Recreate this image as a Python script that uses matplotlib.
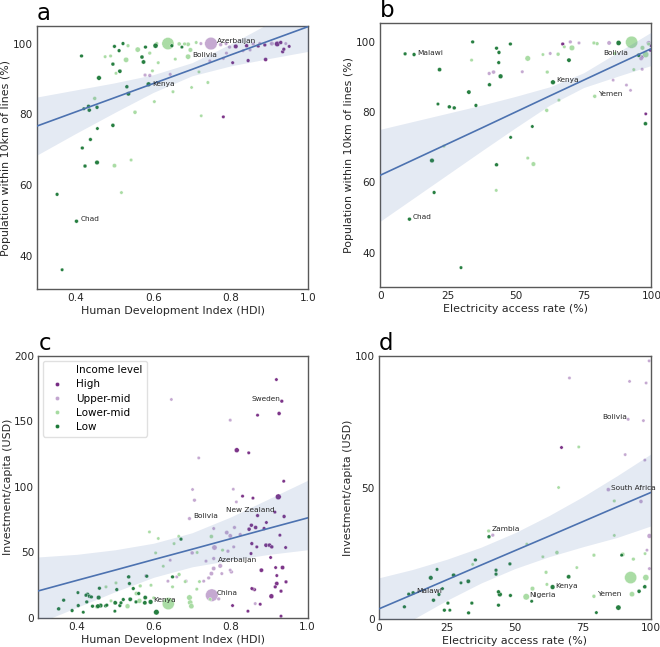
import numpy as np
import matplotlib
matplotlib.use("Agg")
import matplotlib.pyplot as plt
from matplotlib.lines import Line2D

# income groups and colours (PRGn-like)
INCOME = ["High", "Upper-mid", "Lower-mid", "Low"]
COLORS = ["#762a83", "#c2a5cf", "#a6dba0", "#1b7837"]

# ---- panel a: HDI vs population within 10km of lines (%) ; (x, y, pop in millions)
A_HIGH = [(0.92, 99.9, 90), (0.813, 99.2, 40), (0.805, 94.6, 5), (0.845, 95.2, 10), (0.89, 95.5, 20),
          (0.937, 98.4, 10), (0.934, 97.7, 10), (0.951, 99.2, 5), (0.781, 79.3, 5), (0.841, 99.4, 15),
          (0.888, 99.6, 10), (0.906, 100, 15), (0.871, 99.3, 10), (0.929, 100.3, 15)]
A_UPPER = [(0.749, 100, 1300), (0.579, 91.1, 10), (0.591, 91, 10), (0.644, 91.3, 5), (0.774, 99.7, 15),
           (0.788, 100, 10), (0.797, 99, 10), (0.832, 98, 5), (0.858, 99.9, 10), (0.875, 100, 10),
           (0.746, 95.1, 5), (0.789, 97.3, 5), (0.85, 98.2, 5), (0.905, 100, 5), (0.942, 100, 5),
           (0.723, 100, 5), (0.781, 95.8, 5)]
A_LOWER = [(0.53, 95.4, 80), (0.56, 98.3, 80), (0.638, 100, 1200), (0.69, 96.3, 80), (0.696, 98.2, 40),
           (0.69, 99.8, 30), (0.667, 99.9, 20), (0.5, 65.5, 30), (0.449, 84.5, 15), (0.553, 80.6, 20),
           (0.543, 67.1, 5), (0.518, 57.9, 5), (0.535, 99.4, 10), (0.49, 96.5, 5), (0.476, 96.3, 5),
           (0.504, 91.6, 5), (0.598, 92.3, 5), (0.603, 83.6, 5), (0.651, 86.4, 5), (0.657, 95.6, 5),
           (0.613, 94.6, 5), (0.591, 97.3, 10), (0.609, 100, 10), (0.711, 100.3, 5), (0.724, 79.6, 3),
           (0.699, 87.6, 3), (0.741, 89, 5), (0.718, 92, 3), (0.681, 99.9, 10)]
A_LOW = [(0.415, 96.5, 10), (0.352, 57.4, 10), (0.365, 36.1, 5), (0.402, 49.8, 15), (0.417, 70.5, 10),
         (0.424, 65.4, 15), (0.438, 72.9, 10), (0.433, 82.3, 10), (0.435, 81.2, 20), (0.421, 81.6, 5),
         (0.455, 82.0, 15), (0.456, 76.0, 5), (0.46, 90.3, 50), (0.455, 66.4, 40), (0.496, 76.9, 20),
         (0.496, 94.2, 15), (0.50, 99.2, 10), (0.512, 98.0, 10), (0.522, 100, 10), (0.514, 92.2, 25),
         (0.532, 87.8, 15), (0.536, 85.8, 30), (0.571, 96.2, 20), (0.575, 94.8, 30), (0.58, 99, 10),
         (0.606, 99.4, 70), (0.588, 88.5, 50), (0.648, 99.4, 10), (0.674, 99, 5)]
A_FIT_X = [0.3, 0.4, 0.5, 0.6, 0.7, 0.8, 0.9, 1.0]
A_FIT_Y = [76.7, 80.7, 84.7, 88.7, 92.7, 96.8, 100.8, 104.8]
A_CI_LO = [68.5, 74.6, 80.5, 86.2, 90.9, 93.7, 95.8, 97.8]
A_CI_HI = [84.9, 86.9, 88.9, 91.2, 94.6, 99.9, 105.8, 111.8]
A_LABELS = [("Azerbaijan", 0.765, 100.6), ("Bolivia", 0.702, 96.7), ("Kenya", 0.598, 88.7), ("Chad", 0.412, 50.3)]

# ---- panel b: electricity access vs population within 10km of lines (%)
B_HIGH = [(67.3, 99.4, 10), (97.9, 79.5, 3), (99.6, 97.6, 5), (99, 99.8, 5), (99.9, 99, 10), (96.6, 95.7, 5)]
B_UPPER = [(84.4, 99.7, 30), (41.8, 91.4, 20), (40.2, 91, 10), (52.4, 91.5, 5), (62.7, 96.7, 5),
           (70.1, 100, 10), (73.3, 99.7, 5), (96.2, 95.3, 30), (90.8, 87.7, 3), (85.9, 89.1, 3),
           (92.3, 86.2, 3), (96.6, 92.2, 5), (98.8, 99.7, 10)]
B_LOWER = [(54.4, 95.3, 100), (70.7, 98.3, 100), (92.7, 99.9, 1200), (97.9, 96.4, 150), (56.5, 65.2, 40),
           (61.4, 80.5, 15), (79.1, 84.5, 15), (54.4, 66.9, 5), (42.8, 57.7, 5), (33.7, 94.8, 5),
           (65.6, 96.5, 15), (61.6, 91.4, 10), (67.9, 98.6, 5), (78.8, 99.7, 10), (80, 99.5, 10),
           (96.7, 98.3, 40), (93.5, 92.1, 5), (60, 96.4, 3), (65.9, 83.4, 5), (23.5, 70.3, 5),
           (86.5, 96.7, 5), (99, 99.4, 10)]
B_LOW = [(9.2, 96.6, 10), (12.5, 96.4, 15), (10.8, 49.5, 15), (19.1, 66.2, 40), (19.9, 57.1, 10),
         (21.9, 92.1, 25), (21.3, 82.3, 5), (25.5, 81.5, 15), (27.3, 81.2, 15), (29.8, 35.7, 5),
         (32.7, 85.7, 30), (34.1, 100, 10), (35.3, 81.9, 10), (42.9, 98.2, 10), (43.8, 97, 15),
         (43.7, 94.1, 10), (40.3, 87.8, 15), (44.4, 90.2, 50), (42.9, 65, 15), (48.1, 72.8, 5),
         (48, 99.4, 10), (56.1, 75.9, 5), (63.7, 88.5, 50), (69.6, 94.8, 30), (87.9, 99.7, 70),
         (95.3, 96.2, 20), (97.8, 76.7, 20)]
B_FIT_X = [0, 12.5, 25, 37.5, 50, 62.5, 75, 87.5, 100]
B_FIT_Y = [62.0, 66.5, 71.0, 75.5, 80.05, 84.6, 89.1, 93.6, 98.1]
B_CI_LO = [48.9, 55.6, 62.3, 69.0, 75.6, 82.0, 87.0, 90.2, 93.3]
B_CI_HI = [75.1, 77.4, 79.7, 82.0, 84.5, 87.2, 91.2, 97.0, 102.8]
B_LABELS = [("Malawi", 13.8, 96.9), ("Bolivia", 82.2, 96.9), ("Kenya", 64.8, 89.1),
            ("Yemen", 80.3, 85.1), ("Chad", 11.9, 50.0)]

# ---- panel c: HDI vs investment per capita (USD)
C_HIGH = [(0.919, 181.9, 5), (0.933, 165.4, 10), (0.926, 156, 20), (0.87, 154.7, 5), (0.816, 128, 60),
          (0.847, 126, 5), (0.938, 104.3, 5), (0.924, 92.4, 120), (0.831, 92.9, 5), (0.858, 91.4, 5),
          (0.915, 80.7, 5), (0.87, 78.1, 10), (0.939, 77.4, 15), (0.893, 72.8, 5), (0.848, 67.7, 20),
          (0.865, 69, 20), (0.854, 70.7, 15), (0.887, 68.2, 10), (0.928, 63.1, 5), (0.855, 56.7, 10),
          (0.892, 55.5, 25), (0.901, 55.5, 25), (0.907, 54.2, 15), (0.868, 54.2, 5), (0.853, 49.1, 5),
          (0.943, 53.7, 5), (0.904, 46.1, 5), (0.935, 38.4, 30), (0.88, 36.4, 30), (0.917, 38.4, 5),
          (0.92, 32.3, 5), (0.92, 26.2, 30), (0.944, 27.5, 10), (0.862, 21.6, 10), (0.858, 22.1, 5),
          (0.906, 16.5, 60), (0.931, 20.4, 10), (0.845, 5.1, 5), (0.931, 1.3, 5), (0.877, 10.4, 5),
          (0.916, 23.7, 10), (0.805, 9.4, 5), (0.855, 22.4, 5)]
C_UPPER = [(0.646, 166.7, 3), (0.799, 150.9, 5), (0.717, 122.1, 3), (0.701, 98, 3), (0.706, 89.8, 10),
           (0.807, 98.2, 3), (0.815, 88.5, 3), (0.693, 75.8, 10), (0.756, 68.2, 5), (0.79, 65.1, 30),
           (0.799, 62.6, 30), (0.81, 69, 10), (0.825, 63.6, 10), (0.758, 53.7, 80), (0.808, 54.2, 5),
           (0.793, 50.9, 10), (0.7, 49.6, 15), (0.756, 45.3, 10), (0.736, 43.3, 5), (0.756, 37.7, 30),
           (0.773, 39.7, 40), (0.75, 33.8, 30), (0.743, 30.5, 10), (0.802, 35.1, 15), (0.777, 33.8, 5),
           (0.66, 31.3, 5), (0.684, 28, 10), (0.73, 28, 5), (0.637, 28, 5), (0.58, 32.1, 10),
           (0.751, 17.3, 1300), (0.769, 14.5, 10), (0.799, 36.4, 5), (0.864, 10.9, 5), (0.643, 44, 3)]
C_LOWER = [(0.589, 65.6, 3), (0.612, 60.6, 3), (0.605, 49.6, 3), (0.625, 39.4, 3), (0.665, 62.3, 3),
           (0.653, 56.7, 3), (0.75, 62.1, 20), (0.779, 51.7, 5), (0.713, 49.9, 3), (0.649, 23.7, 5),
           (0.593, 24.9, 5), (0.565, 24.4, 10), (0.555, 18.6, 25), (0.563, 13, 60), (0.532, 8.9, 60),
           (0.638, 10.9, 1200), (0.693, 15.5, 100), (0.695, 11.7, 80), (0.698, 8.9, 80), (0.712, 21.9, 5),
           (0.666, 33.1, 15), (0.6, 15.3, 5), (0.502, 26.7, 5), (0.476, 23.7, 5), (0.452, 8.4, 10),
           (0.489, 13, 5), (0.719, 27.7, 5), (0.682, 27.7, 5), (0.747, 14.2, 5)]
C_LOW = [(0.671, 60.1, 10), (0.649, 31.3, 10), (0.582, 31.8, 10), (0.535, 31.3, 15), (0.537, 26.2, 10),
         (0.504, 21.6, 10), (0.459, 22.6, 10), (0.403, 19.3, 5), (0.428, 18, 15), (0.433, 16.5, 15),
         (0.438, 16, 10), (0.424, 17.3, 10), (0.457, 15.5, 40), (0.426, 12.2, 10), (0.455, 8.9, 40),
         (0.462, 9.4, 40), (0.475, 9.2, 10), (0.5, 11.5, 30), (0.515, 11.5, 10), (0.521, 14, 10),
         (0.512, 9.4, 10), (0.499, 5.1, 5), (0.539, 14.2, 30), (0.578, 15.5, 30), (0.577, 11.5, 30),
         (0.592, 12.2, 50), (0.607, 4.3, 100), (0.353, 6.9, 15), (0.388, 5.6, 10), (0.404, 9.4, 10),
         (0.417, 4.3, 5), (0.441, 8.9, 10), (0.366, 13.5, 10), (0.478, 9.7, 10), (0.554, 12.2, 10),
         (0.547, 22.4, 10), (0.561, 18.6, 10)]
C_FIT_X = [0.3, 0.4, 0.5, 0.6, 0.7, 0.8, 0.9, 1.0]
C_FIT_Y = [20.6, 28.6, 36.5, 44.5, 52.4, 60.4, 68.4, 76.3]
C_CI_LO = [-4, 8, 20, 31, 39, 44, 48.5, 52]
C_CI_HI = [46.5, 48.5, 52, 57, 65, 77, 91, 105]
C_LABELS = [("Sweden", 0.853, 166.9), ("New Zealand", 0.789, 82.2), ("Bolivia", 0.704, 77.4),
            ("Azerbaijan", 0.767, 44.0), ("China", 0.763, 19.1), ("Kenya", 0.6, 13.5)]

# ---- panel d: electricity access vs investment per capita (USD)
D_HIGH = [(67.1, 65.4, 5)]
D_UPPER = [(84.4, 49.2, 20), (96.4, 44.7, 20), (41.9, 31.9, 10), (91.7, 75.9, 5), (70.1, 91.6, 3),
           (92.2, 90.3, 3), (98.3, 89.7, 3), (97.3, 75.4, 3), (90.6, 62.5, 3), (97.8, 60.4, 3),
           (99.4, 98.1, 3), (99.5, 31.6, 50), (98.6, 26.2, 3), (99.5, 19.2, 5)]
D_LOWER = [(40.4, 33.5, 10), (54.2, 8.5, 180), (56.5, 11.6, 40), (79.1, 8.7, 15), (92.6, 15.8, 1200),
           (98.2, 15.8, 150), (93.1, 9.5, 80), (89.7, 24.6, 30), (79.1, 24.3, 10), (65.5, 25.3, 20),
           (61.5, 17.8, 10), (61.8, 13.2, 5), (60.3, 23.7, 3), (54.4, 28.5, 3), (66.1, 50, 3),
           (73.5, 65.4, 3), (86.6, 44.9, 5), (93.6, 22.8, 10), (97.9, 24.9, 3), (34.5, 20.8, 3),
           (86.6, 31.8, 3), (72.8, 19.6, 3)]
D_LOW = [(9.4, 4.7, 10), (11, 9.5, 10), (12.6, 10, 15), (19.1, 15.7, 40), (21.4, 18.9, 5), (20.1, 7.2, 15),
         (23.4, 11.6, 5), (22.1, 9.4, 10), (24.1, 3.4, 10), (25.4, 6.1, 10), (26.1, 3.4, 5), (27.5, 16.7, 25),
         (30.2, 13.8, 5), (32.9, 14.4, 30), (33, 2.4, 10), (34.2, 6.1, 10), (35.5, 22.5, 10), (40.5, 31.3, 15),
         (43.1, 18.6, 10), (43.1, 17.1, 10), (44, 5.3, 10), (44, 10.4, 15), (44.5, 9.4, 50), (48.2, 21, 10),
         (48.4, 9, 10), (56.2, 6.8, 5), (63.9, 12.2, 50), (69.8, 16.1, 30), (80, 2.5, 5), (88.1, 4.4, 80),
         (95.7, 10.6, 20), (97.8, 12.3, 20), (89.3, 24.3, 5)]
D_FIT_X = [0, 12.5, 25, 37.5, 50, 62.5, 75, 87.5, 100]
D_FIT_Y = [3.9, 9.4, 14.95, 20.5, 26.0, 31.5, 37.05, 42.6, 48.1]
D_CI_LO = [-7.9, -0.1, 7.15, 13.7, 19.2, 23.7, 27.5, 31.0, 35.4]
D_CI_HI = [15.7, 18.9, 22.75, 27.3, 32.8, 39.3, 46.5, 54.4, 62.7]
D_LABELS = [("Bolivia", 82.1, 76.8), ("South Africa", 85.5, 50.0), ("Zambia", 41.4, 34.2),
            ("Malawi", 13.8, 10.8), ("Kenya", 64.9, 12.7), ("Nigeria", 55.4, 9.0), ("Yemen", 80.3, 9.4)]

LABEL_FS = 7.9
TICK_FS = 7.6


def marker_area(pop):
    # marker diameter in px grows with sqrt(population), converted to pt^2
    d_px = 2.8 + 0.27 * np.sqrt(np.asarray(pop, dtype=float))
    return (d_px * 72 / 100) ** 2


def draw_panel(ax, groups, fit_x, fit_y, ci_lo, ci_hi, labels):
    for pts, col in zip(groups, COLORS):
        arr = np.array(pts, dtype=float)
        arr = arr[np.argsort(-arr[:, 2])]
        ax.scatter(arr[:, 0], arr[:, 1], s=marker_area(arr[:, 2]), color=col,
                   edgecolor="white", linewidth=0.25, alpha=0.95, zorder=2)
    ax.fill_between(fit_x, ci_lo, ci_hi, color="#4c72b0", alpha=0.15, linewidth=0, zorder=3)
    ax.plot(fit_x, fit_y, color="#4c72b0", lw=1.2, zorder=4)
    for name, x, y in labels:
        ax.text(x, y, name, fontsize=5.3, color="0.15", va="center", ha="left", zorder=5)
    for sp in ax.spines.values():
        sp.set_color("0.35")
        sp.set_linewidth(1.0)
    ax.tick_params(length=0, labelsize=TICK_FS, colors="0.15", pad=3)


fig = plt.figure(figsize=(6.6, 6.47), dpi=100)
ax_a = fig.add_axes([0.056, 0.553, 0.411, 0.407])
ax_b = fig.add_axes([0.576, 0.556, 0.411, 0.408])
ax_c = fig.add_axes([0.058, 0.045, 0.408, 0.405])
ax_d = fig.add_axes([0.574, 0.043, 0.412, 0.407])

draw_panel(ax_a, [A_HIGH, A_UPPER, A_LOWER, A_LOW], A_FIT_X, A_FIT_Y, A_CI_LO, A_CI_HI, A_LABELS)
draw_panel(ax_b, [B_HIGH, B_UPPER, B_LOWER, B_LOW], B_FIT_X, B_FIT_Y, B_CI_LO, B_CI_HI, B_LABELS)
draw_panel(ax_c, [C_HIGH, C_UPPER, C_LOWER, C_LOW], C_FIT_X, C_FIT_Y, C_CI_LO, C_CI_HI, C_LABELS)
draw_panel(ax_d, [D_HIGH, D_UPPER, D_LOWER, D_LOW], D_FIT_X, D_FIT_Y, D_CI_LO, D_CI_HI, D_LABELS)

ax_a.set_xlim(0.3, 1.0)
ax_a.set_ylim(30.6, 105)
ax_a.set_xticks([0.4, 0.6, 0.8, 1.0])
ax_a.set_yticks([40, 60, 80, 100])
ax_a.set_xlabel("Human Development Index (HDI)", fontsize=LABEL_FS, color="0.15", labelpad=2)
ax_a.set_ylabel("Population within 10km of lines (%)", fontsize=LABEL_FS, color="0.15", labelpad=1)

ax_b.set_xlim(0, 100)
ax_b.set_ylim(30.1, 105.3)
ax_b.set_xticks([0, 25, 50, 75, 100])
ax_b.set_yticks([40, 60, 80, 100])
ax_b.set_xlabel("Electricity access rate (%)", fontsize=LABEL_FS, color="0.15", labelpad=2)
ax_b.set_ylabel("Population within 10km of lines (%)", fontsize=LABEL_FS, color="0.15", labelpad=1)

ax_c.set_xlim(0.3, 1.0)
ax_c.set_ylim(0, 200)
ax_c.set_xticks([0.4, 0.6, 0.8, 1.0])
ax_c.set_yticks([0, 50, 100, 150, 200])
ax_c.set_xlabel("Human Development Index (HDI)", fontsize=LABEL_FS, color="0.15", labelpad=2)
ax_c.set_ylabel("Investment/capita (USD)", fontsize=LABEL_FS, color="0.15", labelpad=1)

ax_d.set_xlim(0, 100)
ax_d.set_ylim(0, 100)
ax_d.set_xticks([0, 25, 50, 75, 100])
ax_d.set_yticks([0, 50, 100])
ax_d.set_xlabel("Electricity access rate (%)", fontsize=LABEL_FS, color="0.15", labelpad=2)
ax_d.set_ylabel("Investment/capita (USD)", fontsize=LABEL_FS, color="0.15", labelpad=1)

for ax, letter in zip([ax_a, ax_b, ax_c, ax_d], "abcd"):
    ax.annotate(letter, xy=(0, 1), xycoords="axes fraction", xytext=(0, 4.3), textcoords="offset points",
                fontsize=16.5, va="baseline", ha="left", color="black")

# legend with the hue title as first entry
handles = [Line2D([], [], linestyle="none")]
handles += [Line2D([], [], linestyle="none", marker="o", markersize=3.0, color=c, markeredgecolor="white",
                   markeredgewidth=0.25) for c in COLORS]
ax_c.legend(handles, ["Income level"] + INCOME, loc="upper left", fontsize=7.5, frameon=True,
            edgecolor="0.85", handlelength=1.8, handletextpad=0.9, borderpad=0.45, labelspacing=0.4,
            borderaxespad=0.45)

fig.savefig("out.png", dpi=100)
